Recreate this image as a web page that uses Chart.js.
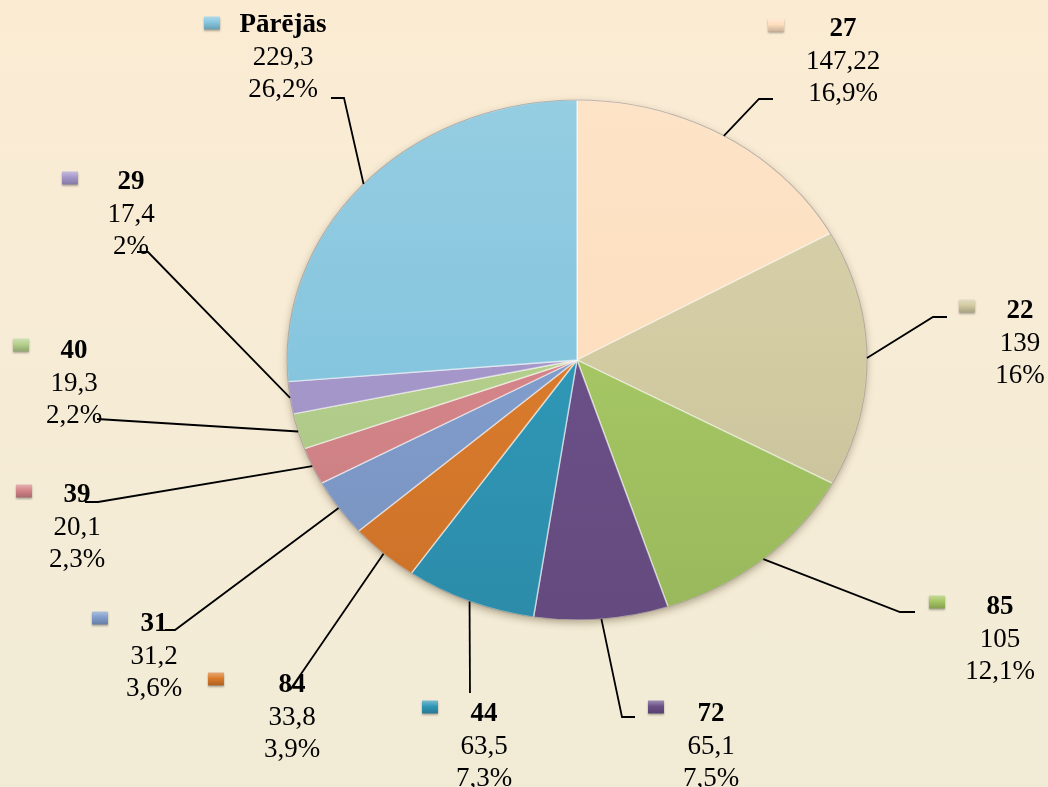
<!DOCTYPE html>
<html>
<head>
<meta charset="utf-8">
<script src="https://cdn.jsdelivr.net/npm/chart.js@4/dist/chart.umd.min.js"></script>
<style>
  html, body { margin:0; padding:0; }
  body { width:1048px; height:787px; overflow:hidden;
         background: linear-gradient(to bottom, #fbebd3 0%, #f6ecd6 50%, #f1ebd6 100%); }
  #wrap { position:relative; width:1048px; height:787px; }
</style>
</head>
<body>
<div id="wrap"><canvas id="c" width="1048" height="787"></canvas></div>
<script>
// ---- data ----
const categories = ['27','22','85','72','44','84','31','39','40','29','Pārējās'];
const values = [147.22, 139, 105, 65.1, 63.5, 33.8, 31.2, 20.1, 19.3, 17.4, 229.3];
const percentLabels = ['16,9%','16%','12,1%','7,5%','7,3%','3,9%','3,6%','2,3%','2,2%','2%','26,2%'];

// ---- styles ----
const colors = ['#fddfbf','#d2cba2','#a5c663','#6b5088','#2f97b6','#da7b2c','#819dcc','#d58589','#b4cf8c','#a597ca','#86c6de'];

// ---- label layout (text centre, marker centre, leader path after the slice edge) ----
const labelLayout = [
  {tx:843, ty:27,  mx:776, my:25,  path:[[759,99],[773,99]]},
  {tx:1020,ty:309, mx:967, my:306, path:[[933,317],[947,317]]},
  {tx:1000,ty:605, mx:937, my:602, path:[[900,612],[915,612]]},
  {tx:711, ty:712, mx:656, my:707, path:[[622,717],[635,717]]},
  {tx:484, ty:712, mx:430, my:707, path:[[470,693]]},
  {tx:292, ty:683, mx:216, my:679, path:[[290,690]]},
  {tx:154, ty:622, mx:100, my:618, path:[[175,630],[165,630]]},
  {tx:77,  ty:493, mx:24,  my:491, path:[[98,502],[85,502]]},
  {tx:74,  ty:349, mx:21,  my:345, path:[[97,419]]},
  {tx:131, ty:180, mx:70,  my:178, path:[[148,252],[137,252]]},
  {tx:283, ty:23,  mx:212, my:23,  path:[[344,98],[331,98]]}
];
const SY = 260/290;   // vertical squash of the pie
const R = 290;
const LINE = 32.5;
const FS = 27;

function shade(hex, amt){
  let n = parseInt(hex.slice(1),16);
  let r=(n>>16)&255, g=(n>>8)&255, b=n&255;
  const f = v => Math.round(amt>=0 ? v+(255-v)*amt : v*(1+amt));
  return `rgb(${f(r)},${f(g)},${f(b)})`;
}
function fmt(v){ return String(v).replace('.', ','); }

const ellipsePlugin = {
  id:'ellipse',
  beforeDatasetsDraw(chart){
    const arc = chart.getDatasetMeta(0).data[0];
    const {x, y} = arc; const r = arc.outerRadius;
    const ctx = chart.ctx;
    ctx.save();
    ctx.translate(x, y); ctx.scale(1, SY); ctx.translate(-x, -y);
    ctx.save();
    ctx.shadowColor = 'rgba(70,50,20,0.45)';
    ctx.shadowBlur = 9; ctx.shadowOffsetY = 3;
    ctx.beginPath(); ctx.arc(x, y, r-1, 0, Math.PI*2);
    ctx.fillStyle = '#b9ab8e'; ctx.fill();
    ctx.restore();
  },
  afterDatasetsDraw(chart){
    const arc = chart.getDatasetMeta(0).data[0];
    const {x, y} = arc; const r = arc.outerRadius;
    const ctx = chart.ctx;
    ctx.beginPath(); ctx.arc(x, y, r, 0, Math.PI*2);
    ctx.strokeStyle = 'rgba(80,60,40,0.35)'; ctx.lineWidth = 1.2; ctx.stroke();
    ctx.restore();
  },
  afterDraw(chart){
    const ctx = chart.ctx;
    const meta = chart.getDatasetMeta(0);
    meta.data.forEach((arc, i) => {
      const L = labelLayout[i];
      const mid = (arc.startAngle + arc.endAngle)/2;
      const sx = arc.x + arc.outerRadius*Math.cos(mid);
      const sy = arc.y + arc.outerRadius*Math.sin(mid)*SY;
      // leader line
      ctx.save();
      ctx.beginPath(); ctx.moveTo(sx, sy);
      L.path.forEach(p => ctx.lineTo(p[0], p[1]));
      ctx.strokeStyle = '#000'; ctx.lineWidth = 1.8; ctx.lineJoin='miter';
      ctx.stroke();
      // marker
      const mw = 16, mh = 13;
      const g = ctx.createLinearGradient(0, L.my-mh/2, 0, L.my+mh/2);
      g.addColorStop(0, shade(colors[i], 0.35));
      g.addColorStop(0.45, colors[i]);
      g.addColorStop(1, shade(colors[i], -0.2));
      ctx.shadowColor='rgba(0,0,0,0.3)'; ctx.shadowBlur=2; ctx.shadowOffsetY=1;
      ctx.fillStyle = g;
      ctx.fillRect(L.mx-mw/2, L.my-mh/2, mw, mh);
      ctx.restore();
      // text
      ctx.save();
      ctx.fillStyle = '#000';
      ctx.textAlign = 'center'; ctx.textBaseline = 'alphabetic';
      ctx.font = `bold ${FS}px "Liberation Serif"`;
      ctx.fillText(categories[i], L.tx, L.ty + 9);
      ctx.font = `${FS}px "Liberation Serif"`;
      ctx.fillText(fmt(values[i]), L.tx, L.ty + LINE + 9);
      ctx.fillText(percentLabels[i], L.tx, L.ty + 2*LINE + 9);
      ctx.restore();
    });
  }
};

new Chart(document.getElementById('c'), {
  type: 'pie',
  data: {
    labels: categories,
    datasets: [{
      data: values,
      radius: R,
      backgroundColor: (c) => {
        const chart = c.chart; const ca = chart.chartArea;
        const base = colors[c.dataIndex];
        if (!ca) return base;
        const cy = (ca.top + ca.bottom)/2;
        const g = chart.ctx.createLinearGradient(0, cy-R, 0, cy+R);
        g.addColorStop(0, shade(base, 0.12));
        g.addColorStop(0.5, base);
        g.addColorStop(1, shade(base, -0.07));
        return g;
      },
      borderColor: 'rgba(255,255,255,0.55)',
      borderWidth: 1.5
    }]
  },
  options: {
    responsive: false,
    animation: false,
    layout: { padding: { left:106, right:0, top:0, bottom:67 } },
    plugins: { legend: { display:false }, tooltip: { enabled:false } }
  },
  plugins: [ellipsePlugin]
});
</script>
</body>
</html>
